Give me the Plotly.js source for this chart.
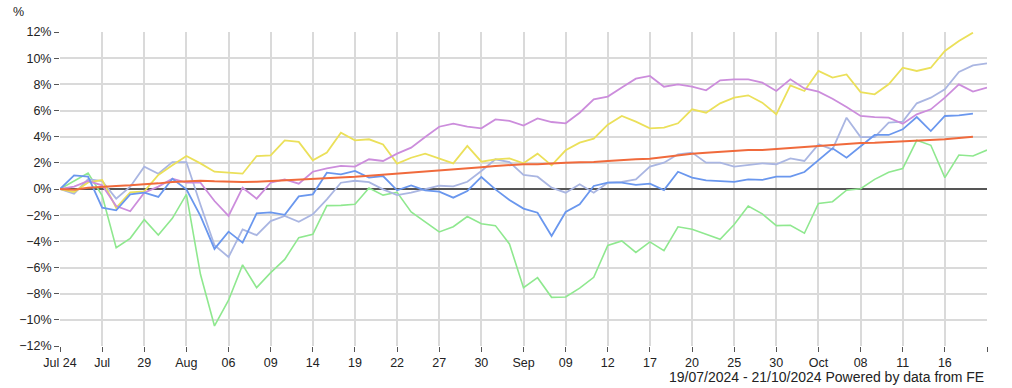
<!DOCTYPE html>
<html>
<head>
<meta charset="utf-8">
<script src="https://cdn.plot.ly/plotly-3.0.1.min.js"></script>
<style>html,body{margin:0;padding:0;background:#fff;}#chart{width:1012px;height:388px;}</style>
</head>
<body>
<div id="chart"></div>
<script>
const tickLabels = ["Jul 24","Jul","29","Aug","06","09","14","19","22","27","30","Sep","09","12","17","20","25","30","Oct","08","11","16",""];

const greenSeries = [0,0.6,1.22,-0.5,-4.48,-3.77,-2.34,-3.52,-2.24,-0.41,-6.52,-10.47,-8.5,-5.8,-7.54,-6.39,-5.38,-3.72,-3.46,-1.27,-1.25,-1.17,0.07,-0.47,-0.25,-1.75,-2.5,-3.28,-2.88,-2.1,-2.66,-2.8,-4.2,-7.54,-6.78,-8.28,-8.25,-7.58,-6.75,-4.31,-3.97,-4.85,-4.04,-4.72,-2.89,-3.08,-3.46,-3.85,-2.72,-1.3,-1.9,-2.8,-2.77,-3.38,-1.1,-0.97,-0.09,0.02,0.74,1.28,1.56,3.72,3.34,0.87,2.6,2.52,2.98];

const yellowSeries = [0,-0.23,0.5,0.68,-1.45,-0.25,-0.18,1.07,1.81,2.52,1.96,1.32,1.25,1.17,2.52,2.57,3.72,3.6,2.19,2.78,4.31,3.72,3.8,3.41,1.94,2.39,2.7,2.34,1.96,3.29,2.09,2.27,2.34,1.96,2.7,1.81,2.96,3.54,3.85,4.92,5.58,5.15,4.64,4.69,5.02,6.09,5.83,6.55,6.98,7.16,6.6,5.71,7.92,7.49,9.02,8.51,8.76,7.41,7.24,8.0,9.27,9.02,9.27,10.55,11.31,11.95];

const purpleSeries = [0,0.18,0.61,0.28,-1.3,-1.7,-0.28,0.18,0.79,0.48,0.48,-0.92,-2.06,0.1,-0.74,0.48,0.74,0.41,1.32,1.58,1.76,1.71,2.27,2.14,2.7,3.16,3.97,4.76,4.99,4.76,4.64,5.32,5.2,4.85,5.4,5.12,5.02,5.83,6.85,7.06,7.75,8.43,8.64,7.82,8.0,7.82,7.54,8.31,8.38,8.38,8.13,7.49,8.38,7.69,7.44,6.9,6.27,5.58,5.5,5.45,4.99,5.71,6.09,6.98,8.0,7.44,7.75];

const blueSeries = [0,1.04,0.94,-1.43,-1.63,-0.41,-0.28,-0.61,0.79,-0.03,-2.06,-4.58,-3.26,-4.1,-1.87,-1.78,-1.97,-0.56,-0.41,1.25,1.12,1.38,0.87,0.99,-0.1,0.28,-0.1,-0.2,-0.66,-0.15,0.92,-0.03,-0.84,-1.5,-1.81,-3.59,-1.76,-1.17,0.23,0.48,0.48,0.31,0.41,-0.08,1.32,0.87,0.66,0.61,0.54,0.74,0.69,0.94,0.94,1.3,2.19,3.11,2.39,3.29,4.13,4.13,4.56,5.5,4.43,5.58,5.63,5.76];

const lavenderSeries = [0,-0.36,0.74,0.61,-0.74,0.18,1.71,1.17,2.06,2.06,-1.2,-4.3,-5.2,-3.08,-3.53,-2.45,-2.06,-2.5,-1.94,-0.79,0.48,0.63,0.52,-0.03,-0.47,-0.28,-0.01,0.25,0.2,0.55,1.38,2.27,2.06,1.08,0.94,0.1,-0.28,0.36,-0.28,0.48,0.54,0.74,1.71,2.01,2.65,2.78,2.01,2.01,1.71,1.81,1.96,1.89,2.34,2.14,3.41,3.03,5.45,3.97,3.97,5.07,5.15,6.55,6.98,7.62,8.94,9.45,9.6];

const orangeSeries = [0,-0.05,0.1,0.18,0.23,0.28,0.33,0.43,0.54,0.61,0.64,0.59,0.54,0.54,0.56,0.61,0.69,0.74,0.79,0.82,0.87,0.94,1.02,1.1,1.17,1.22,1.3,1.4,1.48,1.55,1.66,1.76,1.83,1.89,1.89,1.96,2.01,2.04,2.06,2.14,2.22,2.27,2.32,2.45,2.6,2.7,2.78,2.85,2.93,2.98,2.98,3.06,3.13,3.21,3.29,3.36,3.44,3.52,3.54,3.59,3.64,3.67,3.72,3.8,3.9,4.0];

const idx = arr => arr.map((_, i) => i);
const mk = (arr, color, w) => ({x: idx(arr), y: arr, type: 'scatter', mode: 'lines', line: {color: color, width: w}, hoverinfo: 'skip'});

const traces = [
  mk(greenSeries, '#8fe88f', 1.6),
  mk(lavenderSeries, '#aab6e2', 1.8),
  mk(yellowSeries, '#ebe05a', 1.8),
  mk(purpleSeries, '#cc8ddc', 1.8),
  mk(blueSeries, '#6a97ee', 1.8),
  mk(orangeSeries, '#f06a3c', 2)
];

const tickVals = tickLabels.map((_, i) => i * 3);

const layout = {
  width: 1012, height: 388,
  margin: {l: 60, r: 25, t: 32, b: 42},
  paper_bgcolor: '#ffffff', plot_bgcolor: '#ffffff',
  showlegend: false,
  font: {family: 'Liberation Sans, Arial, sans-serif', size: 12.5, color: '#222'},
  xaxis: {
    range: [0, 66], tickmode: 'array', tickvals: tickVals, ticktext: tickLabels,
    showgrid: true, gridcolor: '#dadada', gridwidth: 2,
    ticks: 'outside', ticklen: 5, tickcolor: '#555', tickwidth: 1,
    zeroline: false, showline: false, fixedrange: true
  },
  yaxis: {
    range: [-12, 12], tickmode: 'linear', tick0: -12, dtick: 2, ticksuffix: '%',
    showgrid: true, gridcolor: '#dadada', gridwidth: 2,
    ticks: 'outside', ticklen: 5, tickcolor: '#555', tickwidth: 1,
    zeroline: true, zerolinecolor: '#555', zerolinewidth: 2.5,
    showline: false, fixedrange: true
  },
  annotations: [
    {text: '%', xref: 'paper', yref: 'paper', x: -0.045, y: 1.065, xanchor: 'center', yanchor: 'middle', showarrow: false, font: {size: 12.5, color: '#222'}},
    {text: '19/07/2024 - 21/10/2024 Powered by data from FE', xref: 'paper', yref: 'paper', x: 0.9985, y: -0.099, xanchor: 'right', yanchor: 'middle', showarrow: false, font: {size: 14, color: '#222'}}
  ]
};

Plotly.newPlot('chart', traces, layout, {staticPlot: true, displayModeBar: false});
</script>
</body>
</html>
